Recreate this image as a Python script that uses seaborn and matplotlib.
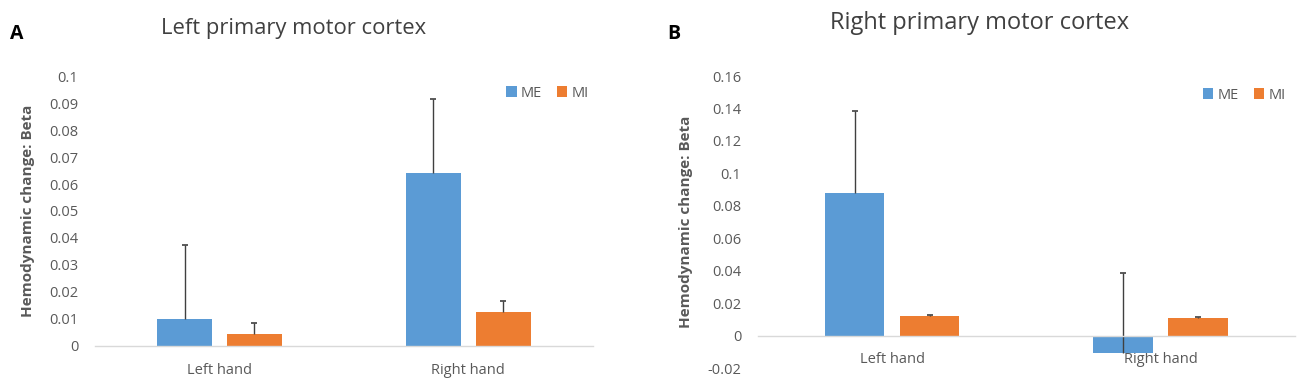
import matplotlib
matplotlib.use("Agg")
import matplotlib.pyplot as plt
import seaborn as sns
import pandas as pd
import numpy as np

hands = ["Left hand", "Right hand"]
conditions = ["ME", "MI"]

# Panel A: Left primary motor cortex
a_me = [0.0100, 0.0640]
a_mi = [0.0044, 0.0126]
a_me_err = [0.0274, 0.0275]
a_mi_err = [0.0041, 0.0041]

# Panel B: Right primary motor cortex
b_me = [0.0880, -0.0105]
b_mi = [0.0123, 0.0110]
b_me_err = [0.0505, 0.0490]
b_mi_err = [0.0006, 0.0006]

colors = ["#5B9BD5", "#ED7D31"]
grey = "#595959"

sns.set_theme(style="white")
plt.rcParams['font.family'] = ['Open Sans', 'DejaVu Sans']

fig = plt.figure(figsize=(13, 3.9), dpi=100)
axA = fig.add_axes([0.073, 0.113, 0.383, 0.692])
axB = fig.add_axes([0.583, 0.056, 0.413, 0.749])


def panel(ax, me, mi, me_err, mi_err, title, title_x, title_size, title_pad,
          ylim, yticks, yticklabels, legend_anchor):
    df = pd.DataFrame({
        "hand": hands * 2,
        "condition": [conditions[0]] * 2 + [conditions[1]] * 2,
        "value": list(me) + list(mi),
    })
    sns.barplot(data=df, x="hand", y="value", hue="condition", order=hands,
                hue_order=conditions, palette=colors, width=0.56, gap=0.21,
                errorbar=None, ax=ax, saturation=1, linewidth=0)
    errs = [me_err, mi_err]
    for cont, err in zip(ax.containers, errs):
        xs = np.array([p.get_x() + p.get_width() / 2 for p in cont.patches])
        ys = np.array([p.get_y() + p.get_height() for p in cont.patches])
        ax.errorbar(xs, ys, yerr=[np.zeros(len(err)), err], fmt="none",
                    ecolor="#404040", elinewidth=1.0, capsize=0)
        ax.plot(xs, ys + np.array(err), linestyle="none", marker="_",
                markersize=5, markeredgewidth=1.2, color="#404040")
    ax.set_ylim(*ylim)
    ax.set_xlim(-0.5, 1.5)
    ax.set_yticks(yticks)
    ax.set_yticklabels(yticklabels)
    for s in ["top", "right", "left"]:
        ax.spines[s].set_visible(False)
    ax.spines["bottom"].set_position(("data", 0))
    ax.spines["bottom"].set_color("#D9D9D9")
    ax.spines["bottom"].set_linewidth(1.0)
    ax.tick_params(axis="y", length=0, labelsize=10.5, labelcolor=grey, pad=12)
    ax.tick_params(axis="x", which="major", length=0, labelsize=10.5, labelcolor=grey, pad=12)
    ax.set_xticks([-0.5, 0.5, 1.5], minor=True)
    ax.tick_params(axis="x", which="minor", length=4, color="#D9D9D9", width=1)
    ax.set_xlabel("")
    ax.set_ylabel("Hemodynamic change: Beta", fontsize=11, fontweight="bold",
                  color=grey, labelpad=10)
    ax.set_title(title, fontsize=title_size, color="#404040", pad=title_pad, x=title_x)
    ax.legend(loc="center left", bbox_to_anchor=legend_anchor, ncol=2, frameon=False,
              handlelength=0.7, handleheight=0.7, handletextpad=0.3, columnspacing=1.0,
              fontsize=10.5, labelcolor=grey)


panel(axA, a_me, a_mi, a_me_err, a_mi_err, "Left primary motor cortex", 0.40, 15.8, 30,
      (0, 0.1), np.arange(0, 0.101, 0.01),
      ["0", "0.01", "0.02", "0.03", "0.04", "0.05", "0.06", "0.07", "0.08", "0.09", "0.1"],
      (0.80, 0.937))
panel(axB, b_me, b_mi, b_me_err, b_mi_err, "Right primary motor cortex", 0.413, 17, 34,
      (-0.02, 0.16), np.arange(-0.02, 0.161, 0.02),
      ["-0.02", "0", "0.02", "0.04", "0.06", "0.08", "0.1", "0.12", "0.14", "0.16"],
      (0.805, 0.935))

fig.text(0.008, 0.90, "A", fontsize=14, fontweight="bold", color="black")
fig.text(0.513, 0.90, "B", fontsize=14, fontweight="bold", color="black")

fig.savefig("out.png", dpi=100, facecolor="white")
